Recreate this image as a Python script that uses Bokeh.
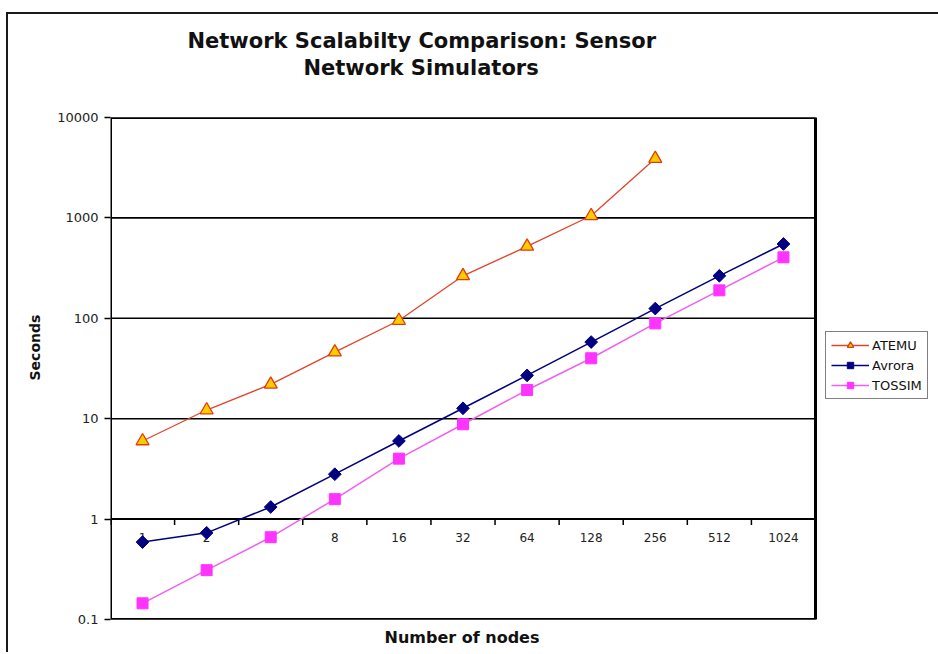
from math import pi
from bokeh.plotting import figure
from bokeh.models import Legend, LegendItem, FixedTicker, Title, Range1d
from bokeh.core.properties import value
from bokeh.embed import file_html
from bokeh.resources import INLINE

# ---- data ----
nodes = ["1", "2", "4", "8", "16", "32", "64", "128", "256", "512", "1024"]
atemu_nodes = ["1", "2", "4", "8", "16", "32", "64", "128", "256"]
atemu = [6.0, 12.2, 22, 46, 95, 265, 520, 1050, 3900]
avrora = [0.59, 0.73, 1.32, 2.8, 6.0, 12.7, 27, 58, 125, 265, 550]
tossim = [0.145, 0.31, 0.66, 1.58, 4.0, 8.8, 19.3, 40, 89, 190, 405]
y_ticks = [0.1, 1, 10, 100, 1000, 10000]
y_tick_labels = ["0.1", "1", "10", "100", "1000", "10000"]
axis_cross = 1
title_lines = ["Network Scalabilty Comparison: Sensor", "Network Simulators"]
x_title = "Number of nodes"
y_title = "Seconds"

# ---- layout constants ----
FONT = "DejaVu Sans"
W, H = 938, 652
LEFT, TOP, BOTTOM = 110, 117, 32
PLOT_W = 705                       # width of the plot area (categories)
FRAME_W = W - LEFT                 # frame runs to the right edge (legend lives there)

n = len(nodes)
pos = {c: i + 0.5 for i, c in enumerate(nodes)}   # category centres
x_atemu = [pos[c] for c in atemu_nodes]
x_all = [pos[c] for c in nodes]
bounds = list(range(n + 1))

p = figure(x_range=Range1d(0, n * FRAME_W / PLOT_W), y_range=(0.1, 10000),
           y_axis_type="log", width=W, height=H,
           min_border_left=LEFT, min_border_top=TOP, min_border_bottom=BOTTOM,
           min_border_right=0,
           output_backend="svg", toolbar_location=None)

p.border_fill_color = None
p.background_fill_color = "white"
p.styles = {
    "background-image": "linear-gradient(#1a1a1a,#1a1a1a), linear-gradient(#1a1a1a,#1a1a1a)",
    "background-size": "100% 2px, 2px 100%",
    "background-position": "7px 12px, 6px 12px",
    "background-repeat": "no-repeat",
}

# ---- title: two lines, spacer keeps them clear of the plot area ----
p.title.text = title_lines[0]
p.title.align = "left"
p.title.offset = 77
p.title.text_font = FONT
p.title.text_font_size = "21px"
p.title.text_font_style = "bold"
p.title.text_color = "#111111"
p.title.standoff = 0
spacer = Title(text=" ", text_font_size="1px", standoff=34)
sub = Title(text=title_lines[1], align="left", offset=193, text_font=FONT,
            text_font_size="21px", text_font_style="bold", text_color="#111111",
            standoff=2)
p.add_layout(spacer, "above")
p.add_layout(sub, "above")

# ---- plot area ----
p.outline_line_color = None
p.xgrid.visible = False
p.ygrid.visible = False
p.segment(x0=0, x1=n, y0=y_ticks, y1=y_ticks, line_color="black", line_width=1.6)
p.quad(left=0, right=n, bottom=y_ticks[0], top=y_ticks[-1], fill_color=None,
       line_color="black", line_width=3)

# y axis
p.yaxis.ticker = FixedTicker(ticks=y_ticks)
p.yaxis.major_label_overrides = dict(zip(y_ticks, y_tick_labels))
p.yaxis.axis_line_color = None
p.yaxis.major_tick_out = 6
p.yaxis.major_tick_in = 0
p.yaxis.major_tick_line_color = "black"
p.yaxis.major_tick_line_width = 1.5
p.yaxis.minor_tick_line_color = None
p.yaxis.major_label_standoff = 6
p.yaxis.major_label_text_font = FONT
p.yaxis.major_label_text_font_size = "13px"
p.yaxis.major_label_text_color = "#222222"
p.add_layout(Title(text=y_title, align="left", offset=239, text_font=FONT,
                   text_font_size="14px", text_font_style="bold", text_color="#111111",
                   standoff=24), "left")

# x axis: the category axis crosses at y = 1; its title sits below the plot area
p.xaxis.visible = False
p.add_layout(Title(text=x_title, align="left", offset=274, text_font=FONT,
                   text_font_size="16px", text_font_style="bold", text_color="#111111",
                   standoff=12), "below")

p.segment(x0=0, x1=n, y0=axis_cross, y1=axis_cross, line_color="black", line_width=2)
p.ray(x=bounds, y=axis_cross, length=6, length_units="screen", angle=-pi / 2,
      line_color="black", line_width=1.5)
p.text(x=x_all, y=axis_cross, text=nodes, y_offset=18,
       text_align="center", text_baseline="middle", text_font=value(FONT),
       text_font_size="12px", text_color="#222222")

# ---- series ----
r1 = p.line(x_atemu, atemu, line_color="#E0442A", line_width=1.3)
s1 = p.scatter(x_atemu, atemu, marker="triangle", size=13, fill_color="#FFCC00",
               line_color="#E03C10", line_width=1.3)
r2 = p.line(x_all, avrora, line_color="#000080", line_width=1.5)
s2 = p.scatter(x_all, avrora, marker="square", angle=pi / 4, size=9, fill_color="#000080",
               line_color="#000080")
r3 = p.line(x_all, tossim, line_color="#F060F0", line_width=1.5)
s3 = p.scatter(x_all, tossim, marker="square", size=11, fill_color="#FF33FF",
               line_color="#FF33FF")

legend = Legend(items=[LegendItem(label="ATEMU", renderers=[r1, s1]),
                       LegendItem(label="Avrora", renderers=[r2, s2]),
                       LegendItem(label="TOSSIM", renderers=[r3, s3])],
                location=(PLOT_W + 10, 220), border_line_color="black", border_line_width=1.5,
                background_fill_color="white", background_fill_alpha=1,
                label_text_font=FONT, label_text_font_size="13px", label_text_color="#111111",
                glyph_width=38, glyph_height=16, label_standoff=3, padding=5,
                spacing=4, margin=0)
p.add_layout(legend)

open("out.html", "w").write(file_html(p, INLINE))
